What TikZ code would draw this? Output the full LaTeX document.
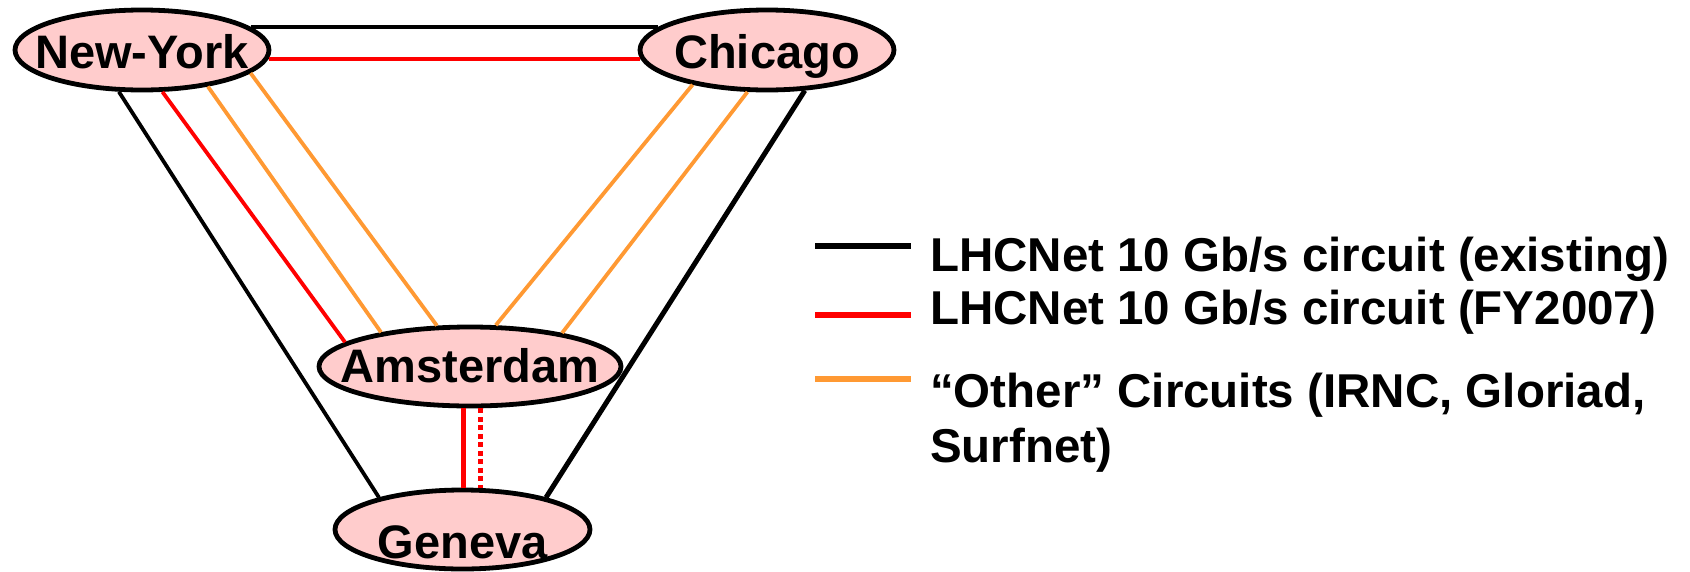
\documentclass[tikz,border=0pt]{standalone}
\usepackage{fontspec}
\setmainfont{Liberation Sans}
\usetikzlibrary{shapes.geometric}
\definecolor{nodepink}{RGB}{255,204,204}
\definecolor{lineorange}{RGB}{255,153,51}
\definecolor{linered}{RGB}{255,0,0}
\newcommand{\ctxt}[2]{\makebox[0pt]{\raisebox{#1}[0pt][0pt]{#2}}}
\begin{document}
\begin{tikzpicture}[x=1pt,y=-1pt,
  city/.style={ellipse, draw=black, line width=4.8pt, fill=nodepink,
    minimum width=254pt, minimum height=80pt, inner sep=0pt,
    font=\fontsize{47}{56}\selectfont\bfseries},
  exist/.style={draw=black, line width=3.8pt},
  fy/.style={draw=linered, line width=3.8pt},
  other/.style={draw=lineorange, line width=3.8pt},
  legline/.style={line width=6.5pt},
  legtext/.style={anchor=base west, inner sep=0pt, align=left,
    font=\fontsize{47.5}{55}\selectfont\bfseries}
]
\useasboundingbox (0,0) rectangle (1690,571);

% cities
\node[city] (ny)  at (142,50)   {\ctxt{-18pt}{New-York}};
\node[city] (chi) at (767,50)   {\ctxt{-18pt}{Chicago}};
\node[city, minimum width=302pt, minimum height=79pt] (ams) at (470,366.5) {\ctxt{-15.5pt}{Amsterdam}};
\node[city, minimum width=255pt, minimum height=79pt] (gen) at (462.5,529.5) {\ctxt{-28.5pt}{Geneva}};

% New-York -- Chicago
\draw[exist, line width=4.5pt] (ny.12) -- (chi.168);
\draw[fy, line width=4.5pt] (ny.-4) -- (chi.184);

% New-York -- Geneva / Amsterdam
\draw[exist] (ny.-119.2) -- (gen.159);
\draw[fy] (ny.-64) -- (ams.169.7);
\draw[other] (ny.-29.9) -- (ams.159);
\draw[other] (ny.-12.7) -- (ams.129.7);

% Chicago -- Amsterdam / Geneva
\draw[other] (chi.-155.6) -- (ams.58.6);
\draw[other] (chi.-115.5) -- (ams.20.9);
\draw[exist, line width=5pt] (chi.-47.1) -- (gen.21.3);

% Amsterdam -- Geneva
\draw[fy, line width=5pt] ([xshift=-7pt]ams.south) -- ([xshift=0.5pt]gen.north);
\draw[fy, line width=5pt, dash pattern=on 5pt off 3.5pt] ([xshift=10pt]ams.south) -- ([xshift=17.5pt]gen.north);

% legend
\coordinate (l1a) at (815,246); \coordinate (l1b) at (911,246);
\coordinate (l2a) at (815,315); \coordinate (l2b) at (911,315);
\coordinate (l3a) at (815,379); \coordinate (l3b) at (911,379);
\draw[legline, black] (l1a) -- (l1b);
\draw[legline, linered] (l2a) -- (l2b);
\draw[legline, lineorange] (l3a) -- (l3b);
\node[legtext] (t1) at (930,271) {LHCNet 10 Gb/s circuit (existing)};
\node[legtext] (t2) at (930,324) {LHCNet 10 Gb/s circuit (FY2007)};
\node[legtext] (t3) at (930,462) {“Other” Circuits (IRNC, Gloriad,\\Surfnet)};
\end{tikzpicture}
\end{document}
